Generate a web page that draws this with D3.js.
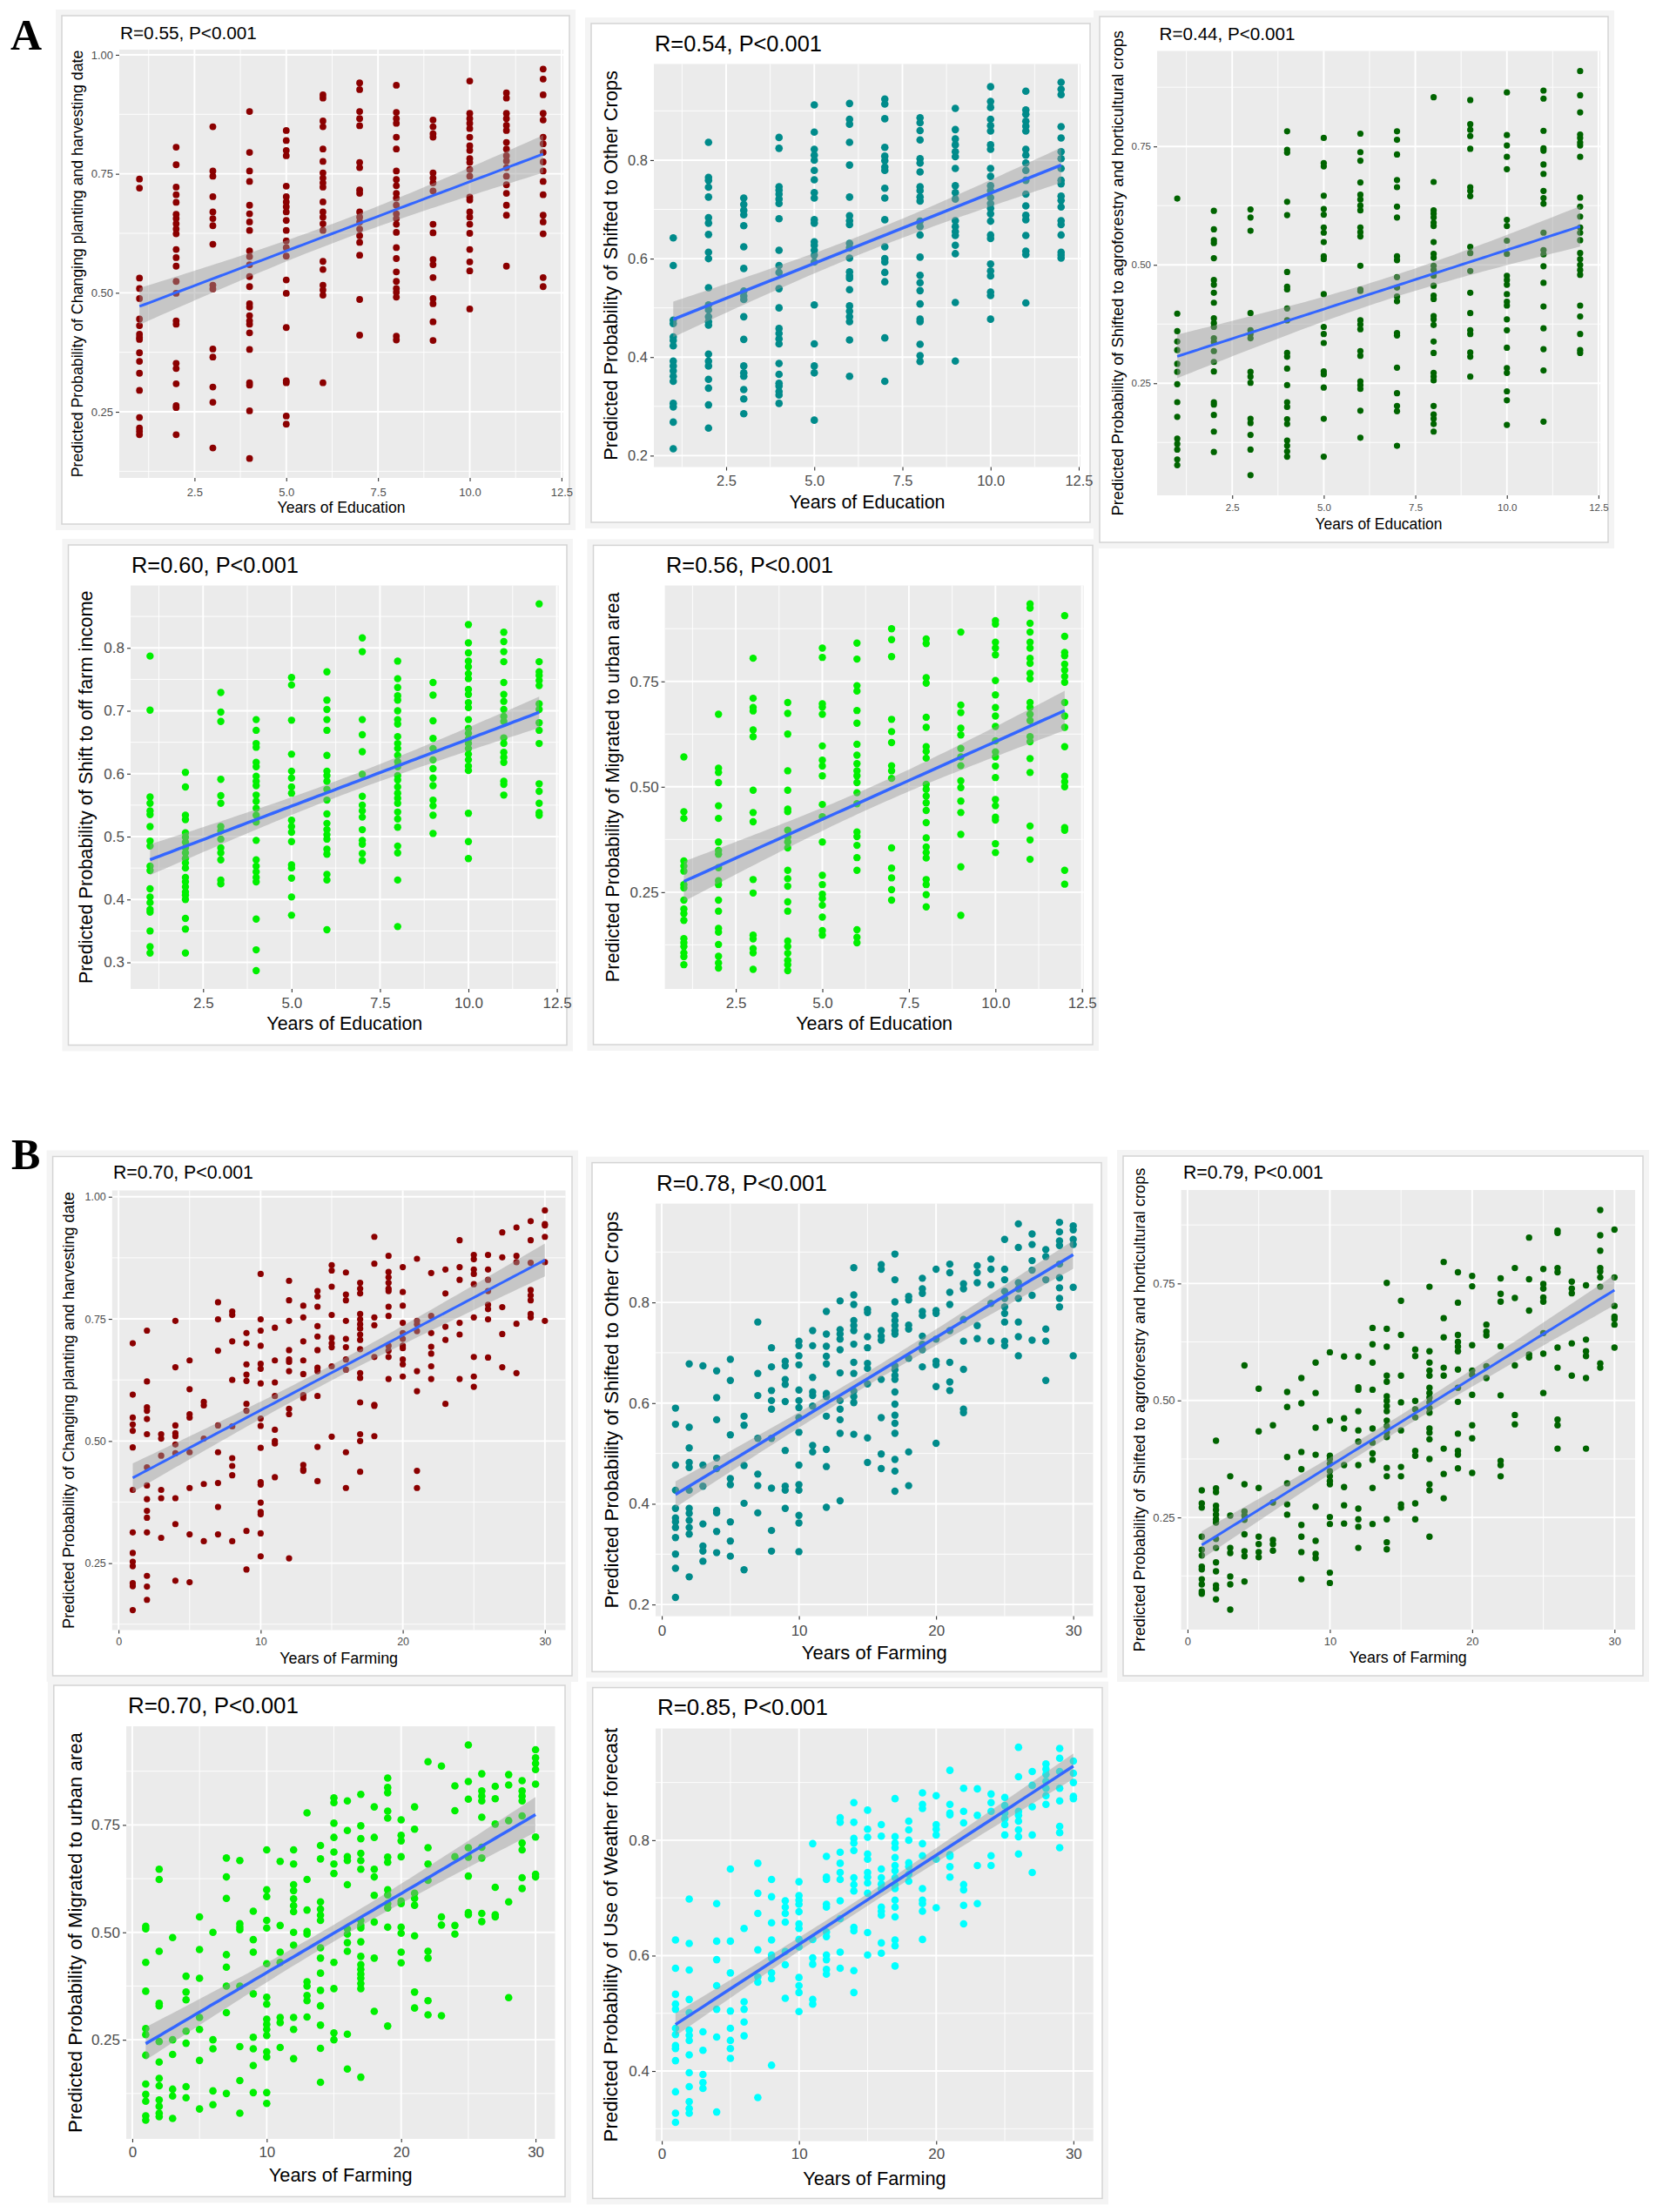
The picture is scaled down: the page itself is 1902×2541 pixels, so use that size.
<!DOCTYPE html>
<html>
<head>
<meta charset="utf-8">
<script src="https://cdn.jsdelivr.net/npm/d3@7"></script>
<style>
  body { margin: 0; background: #fff; }
  text { font-family: "Liberation Sans", Arial, sans-serif; }
  text.letter { font-family: "Liberation Serif", "Times New Roman", serif; font-weight: bold; }
</style>
</head>
<body>
<svg id="fig"></svg>
<script>
// ---- data: [x, [predicted probabilities at that x]] ----
const eduPlanting = [
  [1, [.739,.72,.531,.509,.488,.445,.431,.413,.406,.402,.374,.356,.331,.295,.238,.216,.209,.202]],
  [2, [.806,.769,.722,.706,.69,.665,.656,.645,.634,.624,.591,.574,.556,.524,.499,.441,.434,.352,.341,.309,.263,.259,.202]],
  [3, [.849,.756,.745,.702,.67,.656,.641,.602,.516,.508,.382,.365,.302,.27,.174]],
  [4, [.881,.795,.756,.734,.684,.666,.649,.631,.588,.576,.559,.534,.513,.477,.47,.452,.441,.434,.416,.381,.311,.306,.252,.152]],
  [5, [.841,.82,.799,.788,.724,.702,.691,.681,.67,.652,.631,.609,.595,.577,.527,.499,.427,.315,.311,.241,.224]],
  [6, [.916,.909,.861,.849,.802,.776,.752,.741,.731,.722,.691,.67,.659,.645,.631,.566,.549,.516,.506,.495,.311]],
  [7, [.941,.927,.881,.866,.851,.774,.763,.716,.709,.67,.659,.649,.634,.62,.606,.579,.486,.411]],
  [8, [.936,.879,.866,.856,.827,.802,.756,.738,.725,.709,.699,.684,.666,.656,.644,.627,.595,.572,.544,.524,.509,.501,.491,.409,.401]],
  [9, [.863,.849,.834,.827,.752,.741,.731,.714,.644,.626,.57,.559,.532,.488,.477,.439,.4]],
  [10, [.945,.877,.866,.856,.845,.827,.809,.799,.782,.774,.759,.745,.701,.695,.67,.659,.644,.625,.591,.565,.546,.466]],
  [11, [.92,.909,.877,.866,.852,.841,.816,.802,.788,.777,.763,.745,.727,.709,.684,.663,.556]],
  [12, [.97,.949,.916,.877,.863,.827,.813,.795,.775,.756,.734,.706,.663,.649,.624,.532,.513]]
];
const eduCrops = [
  [1, [.642,.586,.475,.468,.441,.434,.423,.392,.382,.372,.361,.351,.306,.299,.268,.214]],
  [2, [.836,.765,.759,.745,.725,.683,.672,.649,.613,.6,.541,.506,.496,.482,.472,.465,.406,.392,.382,.355,.337,.303,.256]],
  [3, [.723,.71,.698,.689,.667,.624,.58,.534,.524,.517,.482,.436,.382,.368,.361,.334,.315,.285]],
  [4, [.846,.824,.746,.739,.731,.721,.712,.681,.617,.586,.572,.539,.5,.458,.448,.437,.427,.387,.365,.347,.341,.33,.323,.306]],
  [5, [.912,.857,.822,.81,.8,.779,.76,.734,.723,.679,.672,.634,.627,.617,.607,.593,.506,.427,.382,.368,.272]],
  [6, [.915,.883,.873,.836,.79,.725,.687,.677,.669,.631,.622,.601,.573,.565,.56,.537,.504,.493,.482,.472,.435,.361]],
  [7, [.924,.914,.884,.826,.808,.799,.786,.779,.743,.723,.679,.624,.6,.593,.572,.553,.439,.351]],
  [8, [.886,.876,.86,.841,.803,.794,.776,.746,.738,.725,.717,.676,.665,.648,.603,.566,.551,.535,.508,.477,.472,.426,.403,.391]],
  [9, [.905,.862,.843,.831,.817,.807,.783,.748,.734,.721,.677,.665,.655,.647,.627,.61,.511,.392]],
  [10, [.949,.919,.907,.883,.87,.859,.831,.822,.783,.767,.748,.738,.724,.712,.702,.691,.676,.648,.641,.589,.575,.565,.532,.525,.477]],
  [11, [.94,.902,.893,.879,.869,.859,.822,.81,.794,.779,.759,.731,.707,.688,.679,.647,.615,.608,.51]],
  [12, [.958,.944,.933,.868,.845,.817,.803,.783,.759,.752,.727,.718,.705,.677,.669,.648,.613,.607,.601]]
];
const eduAgro = [
  [1, [.64,.397,.36,.338,.32,.291,.274,.248,.21,.179,.133,.122,.11,.089,.077]],
  [2, [.614,.575,.552,.546,.514,.468,.458,.441,.42,.387,.377,.369,.345,.337,.318,.295,.275,.21,.205,.183,.148,.105]],
  [3, [.617,.6,.572,.398,.362,.354,.345,.274,.264,.251,.175,.166,.141,.11,.056]],
  [4, [.782,.743,.737,.633,.605,.485,.454,.448,.408,.383,.314,.306,.281,.246,.21,.2,.174,.164,.129,.118,.106,.095]],
  [5, [.768,.715,.708,.646,.618,.606,.579,.568,.548,.518,.512,.438,.369,.354,.335,.275,.269,.241,.175,.095]],
  [6, [.777,.738,.72,.674,.648,.638,.625,.615,.579,.569,.56,.498,.448,.445,.383,.374,.364,.318,.308,.254,.246,.238,.192,.135]],
  [7, [.782,.764,.733,.679,.664,.623,.6,.518,.51,.474,.452,.433,.423,.356,.351,.283,.229,.202,.191,.118]],
  [8, [.854,.675,.615,.608,.6,.589,.582,.548,.523,.515,.498,.489,.477,.456,.435,.428,.392,.385,.373,.338,.314,.272,.264,.256,.202,.184,.175,.164,.148]],
  [9, [.848,.797,.785,.772,.745,.664,.656,.645,.538,.525,.487,.441,.398,.362,.354,.315,.306,.264]],
  [10, [.864,.774,.752,.728,.702,.595,.582,.551,.523,.477,.468,.458,.438,.422,.414,.385,.362,.325,.282,.272,.233,.214,.162]],
  [11, [.868,.851,.783,.746,.741,.712,.692,.656,.641,.629,.568,.531,.522,.497,.462,.412,.366,.322,.277,.169]],
  [12, [.909,.858,.822,.775,.768,.758,.752,.728,.642,.623,.602,.579,.568,.552,.525,.512,.5,.489,.479,.414,.391,.354,.32,.314]]
];
const eduIncome = [
  [1, [.787,.701,.563,.553,.541,.535,.516,.493,.485,.453,.446,.417,.404,.395,.384,.38,.35,.325,.315]],
  [2, [.602,.579,.534,.527,.506,.499,.491,.482,.474,.465,.458,.45,.435,.428,.42,.412,.407,.4,.37,.353,.315]],
  [3, [.729,.698,.683,.591,.565,.553,.516,.509,.496,.482,.474,.463,.431,.425]],
  [4, [.686,.669,.648,.642,.618,.611,.596,.588,.581,.566,.556,.545,.534,.523,.494,.463,.453,.444,.435,.428,.369,.32,.287]],
  [5, [.753,.741,.685,.631,.604,.593,.579,.569,.526,.516,.507,.492,.455,.45,.434,.404,.375]],
  [6, [.762,.717,.702,.686,.669,.629,.604,.597,.588,.575,.558,.536,.521,.511,.503,.496,.48,.472,.44,.431,.352]],
  [7, [.816,.794,.686,.662,.635,.599,.564,.55,.541,.531,.511,.494,.488,.473,.462]],
  [8, [.779,.751,.737,.724,.717,.7,.686,.679,.659,.648,.64,.629,.619,.611,.597,.59,.579,.569,.561,.553,.539,.528,.515,.485,.474,.431,.357]],
  [9, [.745,.725,.684,.656,.64,.622,.608,.593,.581,.558,.549,.534,.505]],
  [10, [.837,.808,.792,.779,.77,.759,.751,.734,.726,.713,.705,.686,.672,.664,.655,.648,.64,.631,.622,.612,.605,.537,.492,.465]],
  [11, [.825,.81,.794,.778,.745,.726,.715,.702,.691,.683,.657,.648,.634,.626,.618,.588,.583,.566]],
  [12, [.87,.778,.762,.756,.748,.74,.711,.702,.681,.669,.648,.584,.572,.553,.538,.534]]
];
const eduMigrate = [
  [1, [.571,.441,.425,.324,.312,.3,.268,.26,.231,.21,.199,.183,.14,.13,.121,.106,.097,.078]],
  [2, [.672,.544,.534,.51,.455,.425,.369,.349,.34,.308,.277,.268,.231,.205,.164,.155,.126,.098,.082,.07]],
  [3, [.805,.71,.688,.68,.635,.619,.492,.439,.417,.28,.248,.148,.139,.116,.106,.067]],
  [4, [.7,.674,.625,.538,.492,.447,.441,.397,.381,.369,.355,.302,.282,.264,.227,.205,.134,.121,.105,.088,.078,.064]],
  [5, [.829,.807,.697,.689,.672,.597,.563,.549,.526,.458,.429,.369,.29,.268,.245,.235,.219,.191,.159,.148]],
  [6, [.841,.803,.74,.727,.681,.651,.601,.575,.555,.538,.526,.51,.486,.46,.393,.382,.361,.332,.302,.161,.143,.13]],
  [7, [.875,.849,.809,.66,.631,.605,.55,.538,.52,.355,.307,.284,.256,.231]],
  [8, [.851,.84,.759,.746,.665,.641,.595,.584,.568,.506,.494,.478,.462,.444,.415,.379,.357,.344,.331,.28,.268,.244,.215]],
  [9, [.867,.694,.676,.639,.623,.591,.571,.55,.514,.498,.466,.439,.387,.31,.195]],
  [10, [.894,.886,.843,.829,.813,.752,.718,.688,.668,.643,.609,.583,.571,.549,.522,.47,.455,.428,.421,.365,.344]],
  [11, [.934,.924,.888,.867,.843,.829,.805,.793,.769,.756,.7,.688,.672,.657,.619,.607,.567,.534,.407,.374,.328]],
  [12, [.906,.857,.819,.811,.791,.777,.762,.748,.7,.668,.641,.595,.525,.512,.5,.403,.397,.302,.269]]
];
const farmPlanting = [
  [1, [.7,.595,.548,.534,.521,.487,.4,.313,.271,.253,.244,.209,.203,.154]],
  [2, [.726,.622,.569,.562,.545,.514,.446,.409,.381,.357,.343,.313,.224,.202,.175]],
  [3, [.514,.505,.47,.4,.383,.302]],
  [4, [.746,.651,.532,.516,.51,.493,.475,.383,.33,.214]],
  [5, [.665,.606,.555,.548,.477,.404,.309,.211]],
  [6, [.58,.573,.505,.412,.295]],
  [7, [.784,.749,.685,.532,.477,.414,.365,.309]],
  [8, [.765,.758,.704,.625,.53,.465,.449,.43,.295]],
  [9, [.721,.7,.657,.636,.623,.576,.562,.316,.237]],
  [10, [.842,.749,.726,.695,.658,.648,.618,.546,.531,.486,.416,.411,.374,.355,.35,.311,.264]],
  [11, [.732,.665,.62,.592,.523,.5,.495,.426]],
  [12, [.828,.788,.746,.686,.667,.662,.643,.566,.555,.26]],
  [13, [.777,.753,.704,.665,.637,.594,.588,.451,.442,.439]],
  [14, [.807,.796,.775,.735,.714,.686,.65,.643,.592,.488,.418]],
  [15, [.86,.849,.816,.758,.711,.7,.692,.653,.509]],
  [16, [.845,.8,.788,.746,.709,.692,.667,.646,.477,.404]],
  [17, [.824,.812,.802,.76,.749,.739,.73,.718,.707,.688,.639,.629,.579,.514,.5,.437]],
  [18, [.918,.863,.753,.737,.672,.574,.572,.51]],
  [19, [.879,.846,.835,.824,.812,.807,.775,.756,.695,.685,.672,.627]],
  [20, [.856,.805,.777,.742,.721,.709,.695,.69,.667,.657,.632]],
  [21, [.873,.746,.739,.725,.643,.602,.439,.404]],
  [22, [.844,.756,.721,.693,.679,.653,.627]],
  [23, [.851,.802,.734,.707,.576]],
  [24, [.911,.856,.83,.742,.718,.627]],
  [25, [.881,.872,.851,.842,.821,.753,.672,.632,.611]],
  [26, [.881,.851,.83,.807,.779,.77,.749,.671]],
  [27, [.927,.876,.774,.719,.651]],
  [28, [.937,.879,.866,.74,.639]],
  [29, [.95,.911,.865,.809,.798,.788,.76,.753]],
  [30, [.972,.944,.941,.918,.866,.746]]
];
const farmCrops = [
  [1, [.59,.558,.477,.427,.391,.372,.364,.353,.333,.3,.272,.214]],
  [2, [.678,.552,.511,.482,.472,.427,.391,.381,.367,.353,.34,.255]],
  [3, [.674,.477,.435,.36,.316,.306,.286]],
  [4, [.664,.611,.567,.491,.47,.387,.382,.345,.303]],
  [5, [.687,.645,.537,.45,.438,.364,.326,.296]],
  [6, [.574,.556,.476,.401,.269]],
  [7, [.761,.659,.615,.53,.459,.436,.382]],
  [8, [.71,.672,.625,.605,.588,.53,.431,.347,.306]],
  [9, [.683,.674,.647,.637,.603,.506,.435,.427,.391]],
  [10, [.723,.714,.694,.676,.626,.605,.591,.571,.542,.477,.438,.427,.377,.362,.305]],
  [11, [.744,.714,.651,.622,.615,.594,.516,.503]],
  [12, [.782,.737,.713,.693,.678,.619,.613,.574,.508,.474,.393]],
  [13, [.803,.746,.737,.727,.706,.66,.605,.588,.567,.54,.406]],
  [14, [.869,.815,.796,.764,.754,.744,.717,.681,.659,.624,.613,.601,.538]],
  [15, [.786,.78,.732,.71,.679,.669,.638,.531,.482]],
  [16, [.875,.866,.744,.733,.725,.647,.571,.499,.47]],
  [17, [.896,.845,.801,.774,.764,.754,.744,.737,.674,.666,.655,.647,.622,.598,.576,.56,.54,.488,.465,.425]],
  [18, [.812,.805,.755,.747,.689,.503,.436]],
  [19, [.848,.827,.818,.782,.774,.733,.717,.706,.672]],
  [20, [.866,.784,.778,.727,.683,.676,.633,.52]],
  [21, [.876,.859,.82,.796,.744,.681,.642,.625]],
  [22, [.837,.827,.766,.723,.667,.588,.581]],
  [23, [.873,.859,.839,.754,.728]],
  [24, [.886,.866,.835,.798,.723]],
  [25, [.925,.866,.845,.822,.808,.791,.778,.761,.723,.714]],
  [26, [.956,.909,.839,.827,.808,.761,.732,.694]],
  [27, [.936,.915,.883,.864,.814,.725]],
  [28, [.905,.891,.845,.747,.723,.645]],
  [29, [.959,.94,.922,.913,.876,.849,.829,.808,.791]],
  [30, [.952,.944,.925,.915,.83,.694]]
];
const farmAgro = [
  [1, [.308,.28,.271,.209,.181,.169,.145,.139,.118,.107,.092,.087]],
  [2, [.414,.312,.304,.275,.266,.256,.246,.239,.204,.185,.154,.135,.105,.098,.075]],
  [3, [.338,.254,.185,.174,.124,.107,.053]],
  [4, [.575,.321,.263,.254,.245,.214,.178,.167,.113]],
  [5, [.525,.434,.313,.209,.193,.176,.165]],
  [6, [.447,.282,.202,.193,.179]],
  [7, [.518,.486,.379,.323,.278,.256]],
  [8, [.548,.494,.39,.353,.234,.209,.176,.118]],
  [9, [.581,.516,.442,.384,.273,.2,.172,.163]],
  [10, [.603,.457,.382,.375,.365,.349,.338,.328,.321,.251,.236,.132,.11]],
  [11, [.594,.462,.44,.362,.315,.276,.237]],
  [12, [.594,.528,.523,.477,.436,.412,.362,.269,.246,.23,.185]],
  [13, [.655,.62,.581,.523,.44,.41,.387,.373,.313,.236]],
  [14, [.751,.653,.615,.553,.54,.509,.499,.488,.477,.457,.445,.432,.422,.356,.338,.246,.197,.182]],
  [15, [.713,.64,.553,.496,.436,.358,.338,.278,.271]],
  [16, [.609,.595,.499,.481,.464,.392,.382,.28,.246]],
  [17, [.743,.605,.581,.564,.553,.527,.516,.506,.496,.484,.474,.44,.431,.417,.375,.321,.308,.209]],
  [18, [.796,.676,.635,.57,.553,.397,.343,.291]],
  [19, [.774,.709,.64,.625,.615,.605,.566,.527,.497,.429,.392,.384,.355]],
  [20, [.766,.744,.618,.564,.555,.512,.447,.419,.345]],
  [21, [.662,.647,.639,.573,.548]],
  [22, [.761,.728,.711,.616,.511,.371,.362,.338]],
  [23, [.783,.719,.575,.469,.449]],
  [24, [.848,.759,.692,.598,.592]],
  [25, [.781,.749,.739,.72,.711,.644,.6,.516]],
  [26, [.863,.858,.783,.774,.613,.57,.459,.447,.397]],
  [27, [.754,.739,.729,.622,.553]],
  [28, [.746,.63,.605,.595,.548,.397]],
  [29, [.907,.853,.82,.783,.776,.763,.743,.579,.57]],
  [30, [.865,.763,.702,.679,.674,.662,.613]]
];
const farmMigrate = [
  [1, [.514,.508,.43,.363,.276,.262,.214,.147,.123,.107,.073,.063]],
  [2, [.647,.623,.456,.335,.329,.246,.198,.16,.143,.11,.095,.079,.071]],
  [3, [.488,.25,.216,.135,.119,.067]],
  [4, [.398,.361,.343,.27,.242,.141,.115]],
  [5, [.536,.46,.393,.302,.274,.202,.089]],
  [6, [.5,.25,.229,.131,.099]],
  [7, [.673,.629,.579,.448,.419,.375,.313,.125]],
  [8, [.667,.52,.512,.506,.375,.234,.155,.079]],
  [9, [.549,.483,.454,.357,.256,.229,.19,.127]],
  [10, [.692,.599,.583,.528,.51,.427,.349,.333,.298,.286,.274,.26,.222,.21,.127,.102]],
  [11, [.665,.516,.454,.43,.302,.29,.232]],
  [12, [.692,.659,.611,.597,.578,.562,.548,.5,.47,.302,.274,.206]],
  [13, [.778,.623,.552,.502,.496,.385,.375,.353,.341,.303]],
  [14, [.702,.671,.571,.554,.54,.528,.464,.44,.405,.365,.329,.284,.23,.151]],
  [15, [.813,.802,.754,.721,.687,.659,.637,.43,.369,.266,.25]],
  [16, [.806,.737,.676,.667,.611,.508,.496,.476,.456,.263,.182]],
  [17, [.821,.748,.718,.684,.667,.647,.528,.516,.51,.478,.444,.425,.414,.403,.393,.381,.369,.163]],
  [18, [.792,.721,.647,.629,.586,.524,.44,.316]],
  [19, [.859,.837,.825,.782,.766,.675,.663,.599,.587,.567,.557,.512,.282]],
  [20, [.762,.726,.713,.676,.573,.567,.512,.498,.454,.429]],
  [21, [.792,.74,.591,.579,.563,.492,.361,.324]],
  [22, [.897,.697,.659,.621,.456,.44,.341,.308]],
  [23, [.887,.536,.517,.306]],
  [24, [.841,.783,.676,.516,.496]],
  [25, [.936,.851,.81,.697,.675,.631,.546,.541]],
  [26, [.869,.829,.817,.806,.768,.698,.673,.544,.525]],
  [27, [.84,.811,.752,.605,.541,.536]],
  [28, [.867,.843,.76,.571,.348]],
  [29, [.853,.829,.817,.806,.771,.708,.692,.627,.602]],
  [30, [.925,.906,.893,.879,.845,.722,.635,.629]]
];
const farmWeather = [
  [1, [.627,.578,.533,.516,.507,.474,.463,.444,.439,.418,.364,.327,.311]],
  [2, [.698,.621,.575,.524,.501,.471,.462,.453,.428,.397,.373,.347,.335,.327]],
  [3, [.468,.436,.394,.38,.37]],
  [4, [.69,.625,.593,.548,.507,.459,.329]],
  [5, [.75,.625,.57,.504,.474,.453,.439,.422]],
  [6, [.647,.52,.507,.485,.461]],
  [7, [.76,.708,.673,.61,.563,.554,.354]],
  [8, [.732,.702,.657,.627,.601,.596,.57,.56,.41]],
  [9, [.695,.684,.673,.658,.607,.584,.526]],
  [10, [.728,.704,.696,.689,.676,.655,.647,.628,.615,.562,.548,.536,.503]],
  [11, [.794,.628,.596,.585,.524,.516]],
  [12, [.772,.736,.732,.689,.684,.641,.633,.601,.593,.576,.568]],
  [13, [.839,.831,.779,.76,.744,.732,.695,.664,.606,.578]],
  [14, [.865,.831,.803,.795,.782,.735,.723,.712,.649,.643,.574,.536]],
  [15, [.852,.819,.805,.776,.767,.744,.736,.726,.708,.64,.601]],
  [16, [.827,.807,.75,.735,.724,.716,.684,.677,.67,.622,.604]],
  [17, [.872,.806,.795,.787,.77,.756,.747,.735,.723,.716,.696,.684,.667,.627,.617,.582]],
  [18, [.833,.818,.8,.761,.754,.741,.729]],
  [19, [.882,.862,.855,.794,.773,.716,.696,.69,.677,.628]],
  [20, [.877,.827,.819,.809,.767,.683]],
  [21, [.921,.862,.847,.844,.775,.772,.754,.736]],
  [22, [.89,.85,.83,.723,.714,.687,.655]],
  [23, [.889,.843,.756,.69]],
  [24, [.88,.865,.85,.773,.756]],
  [25, [.874,.86,.847,.837,.827,.809]],
  [26, [.961,.91,.85,.843,.833,.818,.806,.776]],
  [27, [.919,.895,.858,.809,.744]],
  [28, [.932,.923,.914,.902,.89,.877,.862]],
  [29, [.959,.942,.919,.89,.868,.824,.813,.787]],
  [30, [.937,.916,.9,.876,.872]]
];

// ---- labels and ticks ----
const rLabels = ["R=0.55, P<0.001","R=0.54, P<0.001","R=0.44, P<0.001","R=0.60, P<0.001","R=0.56, P<0.001",
                 "R=0.70, P<0.001","R=0.78, P<0.001","R=0.79, P<0.001","R=0.70, P<0.001","R=0.85, P<0.001"];
const yTitles = [
  "Predicted Probability of Changing planting and harvesting date",
  "Predicted Probability of Shifted to Other Crops",
  "Predicted Probability of Shifted to agroforestry and horticultural crops",
  "Predicted Probability of Shift to off farm income",
  "Predicted Probability of Migrated to urban area",
  "Predicted Probability of Use of Weather forecast"
];
const eduXTicks = [2.5, 5.0, 7.5, 10.0, 12.5];
const farmXTicks = [0, 10, 20, 30];
const quarterTicks = [0.25, 0.50, 0.75, 1.00];
const fifthTicks = [0.2, 0.4, 0.6, 0.8];
const tenthTicks = [0.3, 0.4, 0.5, 0.6, 0.7, 0.8];

// ---- panel layout ----
const layout = [
  {data: eduPlanting, color: "#8b0000", title: rLabels[0], yTitle: yTitles[0], xTitle: "Years of Education", xt: eduXTicks, xf: ".1f", yt: quarterTicks, yf: ".2f",
   box: [71,18,654,602], plot: [137,57,647,549], tl: [138,37,157], yl: [89,491], xl: [583,147], tf: 13, ty: 565, r: 3.9, lw: 3},
  {data: eduCrops, color: "#008b8b", title: rLabels[1], yTitle: yTitles[1], xTitle: "Years of Education", xt: eduXTicks, xf: ".1f", yt: fifthTicks, yf: ".1f",
   box: [679,27,1252,600], plot: [751,73.5,1241,536.5], tl: [752,50,192], yl: [701,448], xl: [577,179], tf: 16.5, ty: 552, r: 4.3, lw: 3.5},
  {data: eduAgro, color: "#006400", title: rLabels[2], yTitle: yTitles[2], xTitle: "Years of Education", xt: eduXTicks, xf: ".1f", yt: quarterTicks, yf: ".2f",
   box: [1263,19,1847,623], plot: [1329,58.5,1838,569], tl: [1331.5,38,156], yl: [1283,558], xl: [602,146], tf: 11.5, ty: 583, r: 3.6, lw: 3},
  {data: eduIncome, color: "#00f000", title: rLabels[3], yTitle: yTitles[3], xTitle: "Years of Education", xt: eduXTicks, xf: ".1f", yt: tenthTicks, yf: ".1f",
   box: [78.5,626,651,1200.5], plot: [150,672.6,641.6,1136], tl: [151,649,192], yl: [98,452], xl: [1176,179], tf: 17, ty: 1151.6, r: 4.2, lw: 3.5},
  {data: eduMigrate, color: "#00f000", title: rLabels[4], yTitle: yTitles[4], xTitle: "Years of Education", xt: eduXTicks, xf: ".1f", yt: quarterTicks, yf: ".2f",
   box: [681.5,626.4,1255,1200], plot: [763.6,672.6,1244.7,1136], tl: [765,649,192], yl: [703,448], xl: [1176,180], tf: 17, ty: 1151.6, r: 4.2, lw: 3.5},
  {data: farmPlanting, color: "#8b0000", title: rLabels[5], yTitle: yTitles[0], xTitle: "Years of Farming", xt: farmXTicks, xf: "d", yt: quarterTicks, yf: ".2f",
   box: [60.6,1328.5,657,1925], plot: [128.8,1367.5,649.5,1872.5], tl: [130,1346.5,161], yl: [78.5,502], xl: [1905,136], tf: 12.5, ty: 1886, r: 3.6, lw: 3},
  {data: farmCrops, color: "#008b8b", title: rLabels[6], yTitle: yTitles[1], xTitle: "Years of Farming", xt: farmXTicks, xf: "d", yt: fifthTicks, yf: ".1f",
   box: [680,1335.6,1265,1920.3], plot: [753,1382.6,1255.5,1856.6], tl: [754,1359,196], yl: [702,456], xl: [1898,167], tf: 17, ty: 1873.4, r: 4.2, lw: 3.5},
  {data: farmAgro, color: "#006400", title: rLabels[7], yTitle: yTitles[2], xTitle: "Years of Farming", xt: farmXTicks, xf: "d", yt: quarterTicks, yf: ".2f",
   box: [1290,1328,1887,1925], plot: [1356.6,1367,1878,1872], tl: [1359,1347,161], yl: [1308.7,556], xl: [1904,135], tf: 13, ty: 1885.4, r: 3.7, lw: 3},
  {data: farmMigrate, color: "#00f000", title: rLabels[8], yTitle: yTitles[4], xTitle: "Years of Farming", xt: farmXTicks, xf: "d", yt: quarterTicks, yf: ".2f",
   box: [61.8,1936,649,2523.4], plot: [145,1983,637.5,2457], tl: [147,1959.4,196], yl: [86,460], xl: [2498,165], tf: 17, ty: 2472.5, r: 4.3, lw: 3.5},
  {data: farmWeather, color: "#00ffff", title: rLabels[9], yTitle: yTitles[5], xTitle: "Years of Farming", xt: farmXTicks, xf: "d", yt: fifthTicks, yf: ".1f",
   box: [680.7,1938.6,1266,2525.4], plot: [753,1985.6,1255.7,2459.6], tl: [755,1961.3,196], yl: [701,476], xl: [2502,164.5], tf: 17, ty: 2474.5, r: 4.3, lw: 3.5}
];

const W = 1902, H = 2541;
const svg = d3.select("#fig").attr("width", W).attr("height", H);
svg.append("rect").attr("width", W).attr("height", H).attr("fill", "#fff");

function fitFont(sel, target, base) {
  const w = sel.node().getComputedTextLength();
  sel.attr("font-size", base * target / w);
}

function minors(ticks, domain) {
  const step = ticks[1] - ticks[0];
  const out = [];
  for (let v = ticks[0] - step / 2; v <= ticks[ticks.length - 1] + step / 2 + 1e-9; v += step) {
    if (v >= domain[0] && v <= domain[1]) out.push(v);
  }
  return out;
}

layout.forEach(drawPanel);

function drawPanel(p) {
  const pts = p.data.flatMap(([x, ys]) => ys.map(y => ({x, y})));
  const xr = d3.extent(pts, d => d.x), yr = d3.extent(pts, d => d.y);
  const xpad = (xr[1] - xr[0]) * 0.05, ypad = (yr[1] - yr[0]) * 0.05;
  const [bx0, by0, bx1, by1] = p.box;
  const [px0, py0, px1, py1] = p.plot;
  const x = d3.scaleLinear().domain([xr[0] - xpad, xr[1] + xpad]).range([px0, px1]);
  const y = d3.scaleLinear().domain([yr[0] - ypad, yr[1] + ypad]).range([py1, py0]);

  svg.append("rect").attr("x", bx0 - 7).attr("y", by0 - 7)
    .attr("width", bx1 - bx0 + 14).attr("height", by1 - by0 + 14).attr("fill", "#f4f4f4");
  svg.append("rect").attr("x", bx0).attr("y", by0)
    .attr("width", bx1 - bx0).attr("height", by1 - by0)
    .attr("fill", "#fff").attr("stroke", "#d4d4d4").attr("stroke-width", 1.5);

  const g = svg.append("g");
  g.append("rect").attr("x", px0).attr("y", py0).attr("width", px1 - px0).attr("height", py1 - py0).attr("fill", "#ebebeb");

  // grid
  g.selectAll(null).data(minors(p.xt, x.domain())).enter().append("line")
    .attr("x1", d => x(d)).attr("x2", d => x(d)).attr("y1", py0).attr("y2", py1)
    .attr("stroke", "#fff").attr("stroke-width", 0.9);
  g.selectAll(null).data(minors(p.yt, y.domain())).enter().append("line")
    .attr("y1", d => y(d)).attr("y2", d => y(d)).attr("x1", px0).attr("x2", px1)
    .attr("stroke", "#fff").attr("stroke-width", 0.9);
  g.selectAll(null).data(p.xt.filter(v => v >= x.domain()[0] && v <= x.domain()[1])).enter().append("line")
    .attr("x1", d => x(d)).attr("x2", d => x(d)).attr("y1", py0).attr("y2", py1)
    .attr("stroke", "#fff").attr("stroke-width", 1.9);
  g.selectAll(null).data(p.yt.filter(v => v >= y.domain()[0] && v <= y.domain()[1])).enter().append("line")
    .attr("y1", d => y(d)).attr("y2", d => y(d)).attr("x1", px0).attr("x2", px1)
    .attr("stroke", "#fff").attr("stroke-width", 1.9);

  // points
  g.selectAll(null).data(pts).enter().append("circle")
    .attr("cx", d => x(d.x)).attr("cy", d => y(d.y)).attr("r", p.r).attr("fill", p.color);

  // linear fit with 95% band
  const n = pts.length, mx = d3.mean(pts, d => d.x), my = d3.mean(pts, d => d.y);
  const sxx = d3.sum(pts, d => (d.x - mx) ** 2);
  const sxy = d3.sum(pts, d => (d.x - mx) * (d.y - my));
  const b = sxy / sxx, a = my - b * mx;
  const s = Math.sqrt(d3.sum(pts, d => (d.y - a - b * d.x) ** 2) / (n - 2));
  const fit = d3.range(80).map(i => {
    const v = xr[0] + i * (xr[1] - xr[0]) / 79;
    const f = a + b * v, se = s * Math.sqrt(1 / n + (v - mx) ** 2 / sxx);
    return {v, f, lo: f - 1.97 * se, hi: f + 1.97 * se};
  });
  g.append("path").datum(fit)
    .attr("d", d3.area().x(d => x(d.v)).y0(d => y(d.lo)).y1(d => y(d.hi)))
    .attr("fill", "#999").attr("fill-opacity", 0.45);
  g.append("path").datum(fit)
    .attr("d", d3.line().x(d => x(d.v)).y(d => y(d.f)))
    .attr("fill", "none").attr("stroke", "#3366ff").attr("stroke-width", p.lw);

  // axes
  const ya = svg.append("g").attr("transform", `translate(${px0},0)`)
    .call(d3.axisLeft(y).tickValues(p.yt.filter(v => v >= y.domain()[0] && v <= y.domain()[1]))
      .tickFormat(d3.format(p.yf)).tickSize(4).tickPadding(3));
  const xa = svg.append("g").attr("transform", `translate(0,${py1})`)
    .call(d3.axisBottom(x).tickValues(p.xt).tickFormat(d3.format(p.xf)).tickSize(4));
  [ya, xa].forEach(ax => {
    ax.select(".domain").remove();
    ax.selectAll(".tick line").attr("stroke", "#333").attr("stroke-width", 1.1);
    ax.selectAll(".tick text").attr("fill", "#4d4d4d").attr("font-size", p.tf);
  });
  xa.selectAll(".tick text").attr("y", p.ty - py1).attr("dy", "0.35em");

  // titles
  const t = svg.append("text").attr("x", p.tl[0]).attr("y", p.tl[1])
    .attr("dominant-baseline", "central").attr("fill", "#000").attr("font-size", 20).text(p.title);
  fitFont(t, p.tl[2], 20);
  const yl = svg.append("text")
    .attr("transform", `translate(${p.yl[0]},${(py0 + py1) / 2}) rotate(-90)`)
    .attr("text-anchor", "middle").attr("dominant-baseline", "central")
    .attr("fill", "#000").attr("font-size", 16).text(p.yTitle);
  fitFont(yl, p.yl[1], 16);
  const xl = svg.append("text").attr("x", (px0 + px1) / 2).attr("y", p.xl[0])
    .attr("text-anchor", "middle").attr("dominant-baseline", "central")
    .attr("fill", "#000").attr("font-size", 16).text(p.xTitle);
  fitFont(xl, p.xl[1], 16);
}

// panel letters
const letters = [{t: "A", x: 12, y: 57}, {t: "B", x: 13, y: 1343}];
svg.selectAll(null).data(letters).enter().append("text")
  .attr("class", "letter")
  .attr("x", d => d.x).attr("y", d => d.y)
  .attr("font-size", 50).attr("fill", "#000").text(d => d.t);
</script>
</body>
</html>
